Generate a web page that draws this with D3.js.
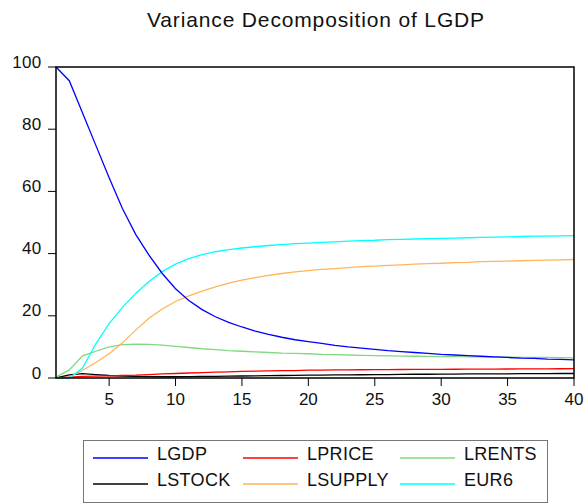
<!DOCTYPE html>
<html>
<head>
<meta charset="utf-8">
<script src="https://cdn.jsdelivr.net/npm/d3@7"></script>
<style>
  html, body { margin: 0; padding: 0; background: #fff; }
  svg { display: block; font-family: "Liberation Sans", Arial, sans-serif; }
</style>
</head>
<body>
<svg id="chart" width="584" height="504"></svg>
<script>
// Forecast horizon (periods 1..40)
const periods = d3.range(1, 41);

// Variance decomposition shares (%) for each shock
const LGDP = [100, 95.6, 85.2, 74.8, 64.4, 54.5, 46.2, 39.5, 33.6, 28.7, 24.9, 22.0, 19.7, 17.9, 16.4, 15.1, 14.0, 13.1, 12.3, 11.7,
  11.1, 10.5, 10, 9.6, 9.2, 8.8, 8.5, 8.2, 7.9, 7.6, 7.4, 7.2, 7.0, 6.8, 6.6, 6.4, 6.3, 6.1, 6.0, 5.8];
const LPRICE = [0, 0.3, 0.5, 0.6, 0.7, 0.8, 0.9, 1.1, 1.3, 1.45, 1.6, 1.75, 1.9, 2.0, 2.1, 2.2, 2.3, 2.35, 2.4, 2.5,
  2.55, 2.6, 2.62, 2.65, 2.7, 2.72, 2.74, 2.76, 2.78, 2.8, 2.82, 2.84, 2.86, 2.88, 2.9, 2.92, 2.94, 2.96, 2.98, 3.0];
const LRENTS = [0.3, 2.6, 7.1, 8.6, 10, 10.7, 10.9, 10.8, 10.6, 10.2, 9.8, 9.4, 9.1, 8.8, 8.6, 8.4, 8.2, 8.0, 7.9, 7.8,
  7.6, 7.5, 7.4, 7.3, 7.2, 7.1, 7.05, 7.0, 6.95, 6.9, 6.85, 6.8, 6.8, 6.75, 6.7, 6.65, 6.6, 6.6, 6.55, 6.5];
const LSTOCK = [0, 1.0, 1.4, 1.1, 0.8, 0.6, 0.5, 0.45, 0.4, 0.4, 0.45, 0.5, 0.55, 0.6, 0.65, 0.7, 0.75, 0.8, 0.85, 0.9,
  0.95, 1.0, 1.0, 1.05, 1.1, 1.1, 1.15, 1.2, 1.2, 1.25, 1.25, 1.3, 1.3, 1.35, 1.35, 1.4, 1.4, 1.4, 1.45, 1.45];
const LSUPPLY = [0, 0.2, 2.5, 5, 7.8, 11.3, 15.4, 19.2, 22.2, 24.6, 26.4, 27.9, 29.3, 30.5, 31.5, 32.3, 33.0, 33.6, 34.1, 34.5,
  34.9, 35.2, 35.5, 35.8, 36.0, 36.2, 36.4, 36.6, 36.8, 36.9, 37.1, 37.2, 37.4, 37.5, 37.6, 37.7, 37.8, 37.9, 38.0, 38.1];
const EUR6 = [0, 0, 3.2, 11, 17.5, 22.7, 27.2, 31, 34.2, 36.6, 38.4, 39.7, 40.6, 41.3, 41.8, 42.2, 42.6, 42.9, 43.2, 43.4,
  43.6, 43.8, 44.0, 44.2, 44.3, 44.5, 44.6, 44.7, 44.8, 44.9, 45.0, 45.1, 45.2, 45.3, 45.4, 45.5, 45.6, 45.6, 45.7, 45.8];

const seriesNames = ["LGDP", "LPRICE", "LRENTS", "LSTOCK", "LSUPPLY", "EUR6"];
const seriesValues = [LGDP, LPRICE, LRENTS, LSTOCK, LSUPPLY, EUR6];
const seriesColors = ["#0000ff", "#ff0000", "#80d880", "#000000", "#ffb45a", "#00ffff"];

const xTicks = [5, 10, 15, 20, 25, 30, 35, 40];
const yTicks = [0, 20, 40, 60, 80, 100];
const titleText = "Variance Decomposition of LGDP";

const svg = d3.select("#chart");
const plot = { left: 56, right: 574, top: 67, bottom: 378 };

const x = d3.scaleLinear().domain([1, 40]).range([plot.left, plot.right]);
const y = d3.scaleLinear().domain([0, 100]).range([plot.bottom, plot.top]);

// Title
svg.append("text")
  .attr("x", 316).attr("y", 27)
  .attr("text-anchor", "middle")
  .attr("font-size", 21)
  .attr("letter-spacing", 0.85)
  .attr("fill", "#111")
  .text(titleText);

// Y axis: ticks pointing out, labels sitting on top of the tick
const yAxis = svg.append("g").attr("transform", `translate(${plot.left},0)`);
yAxis.selectAll("line.tick").data(yTicks).join("line")
  .attr("x1", -8).attr("x2", 0)
  .attr("y1", d => y(d)).attr("y2", d => y(d))
  .attr("stroke", "#000").attr("stroke-width", 1);
yAxis.selectAll("text").data(yTicks).join("text")
  .attr("x", -14.5).attr("y", d => y(d) + 0.5)
  .attr("text-anchor", "end")
  .attr("font-size", 17)
  .attr("letter-spacing", 0.3)
  .attr("fill", "#111")
  .text(d => d);

// X axis ticks and labels
const xAxis = svg.append("g").attr("transform", `translate(0,${plot.bottom})`);
xAxis.selectAll("line.tick").data(xTicks).join("line")
  .attr("x1", d => x(d)).attr("x2", d => x(d))
  .attr("y1", 0).attr("y2", 8)
  .attr("stroke", "#000").attr("stroke-width", 1);
xAxis.selectAll("text").data(xTicks).join("text")
  .attr("x", d => x(d)).attr("y", 26.5)
  .attr("text-anchor", "middle")
  .attr("font-size", 17)
  .attr("fill", "#111")
  .text(d => d);

// Series lines
const line = d3.line()
  .x((d, i) => x(periods[i]))
  .y(d => y(d));

const order = [3, 1, 2, 4, 5, 0];
svg.append("g").selectAll("path").data(order).join("path")
  .attr("d", k => line(seriesValues[k]))
  .attr("fill", "none")
  .attr("stroke", k => seriesColors[k])
  .attr("stroke-width", 1.3);

// Plot frame
svg.append("rect")
  .attr("x", plot.left).attr("y", plot.top)
  .attr("width", plot.right - plot.left)
  .attr("height", plot.bottom - plot.top)
  .attr("fill", "none")
  .attr("stroke", "#000")
  .attr("stroke-width", 1.5);

// Legend
const legend = svg.append("g");
legend.append("rect")
  .attr("x", 83.5).attr("y", 440.5)
  .attr("width", 464).attr("height", 62)
  .attr("fill", "#fff")
  .attr("stroke", "#777")
  .attr("stroke-width", 1);

const colX = [93, 243, 400];
const rowY = [458, 484];
seriesNames.forEach((name, i) => {
  const cx = colX[i % 3];
  const cy = rowY[Math.floor(i / 3)];
  legend.append("line")
    .attr("x1", cx).attr("x2", cx + 55)
    .attr("y1", cy).attr("y2", cy)
    .attr("stroke", seriesColors[i])
    .attr("stroke-width", 1.3);
  legend.append("text")
    .attr("x", cx + 64).attr("y", cy + 1.5)
    .attr("font-size", 18)
    .attr("letter-spacing", 0.3)
    .attr("fill", "#111")
    .text(name);
});
</script>
</body>
</html>
